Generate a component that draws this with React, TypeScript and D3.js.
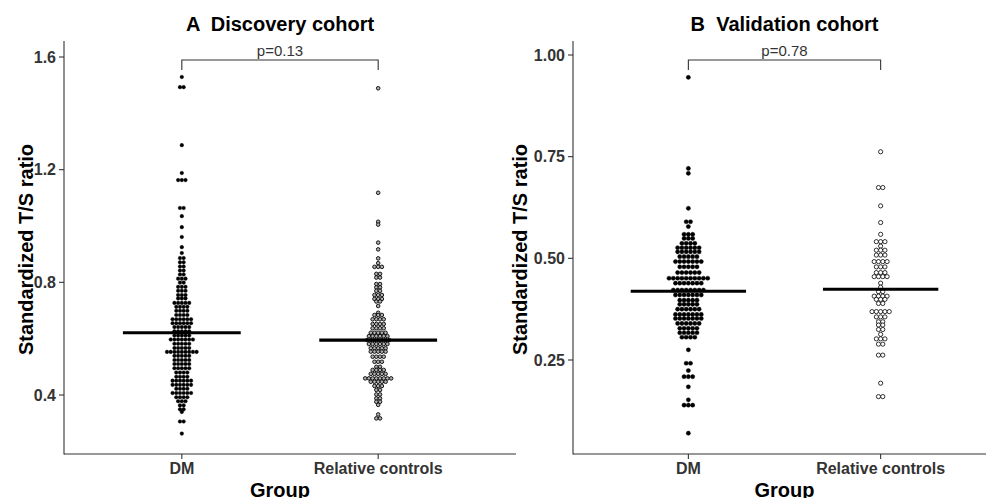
import React from 'react'
import * as d3 from 'd3'

// values as [value, number of dots in that row]
const groups = ['DM', 'Relative controls']

const discoveryDM: [number, number][] = [
  [1.529, 1], [1.493, 2], [1.287, 1], [1.188, 1], [1.163, 3], [1.064, 2], [1.035, 1],
  [0.996, 1], [0.961, 1], [0.925, 1], [0.904, 1], [0.886, 2], [0.871, 2], [0.856, 2],
  [0.842, 2], [0.828, 2], [0.813, 3], [0.799, 2], [0.784, 3], [0.770, 3], [0.755, 3],
  [0.743, 3], [0.727, 5], [0.713, 4], [0.699, 4], [0.684, 4], [0.669, 6], [0.655, 6],
  [0.641, 5], [0.626, 5], [0.611, 5], [0.597, 7], [0.582, 5], [0.567, 5], [0.553, 9],
  [0.539, 5], [0.524, 5], [0.510, 5], [0.495, 5], [0.480, 4], [0.465, 4], [0.451, 6],
  [0.436, 6], [0.422, 4], [0.407, 6], [0.392, 4], [0.378, 3], [0.363, 2], [0.349, 2],
  [0.340, 1], [0.306, 2], [0.263, 1],
]

const discoveryRC: [number, number][] = [
  [1.489, 1], [1.118, 1], [1.015, 1], [1.005, 1], [0.941, 1], [0.917, 1], [0.885, 1],
  [0.868, 1], [0.855, 3], [0.830, 2], [0.817, 2], [0.794, 2], [0.782, 2], [0.770, 2],
  [0.755, 3], [0.741, 3], [0.732, 2], [0.716, 1], [0.692, 1], [0.684, 3], [0.669, 4],
  [0.652, 4], [0.637, 4], [0.621, 5], [0.609, 6], [0.595, 7], [0.581, 6], [0.566, 5],
  [0.554, 5], [0.536, 4], [0.518, 3], [0.500, 2], [0.489, 4], [0.475, 5], [0.459, 8],
  [0.447, 5], [0.432, 3], [0.418, 2], [0.402, 2], [0.388, 2], [0.376, 2], [0.365, 1],
  [0.331, 1], [0.317, 2],
]

const validationDM: [number, number][] = [
  [0.945, 1], [0.721, 1], [0.709, 1], [0.623, 1], [0.590, 2], [0.578, 1], [0.559, 3],
  [0.549, 3], [0.537, 4], [0.526, 6], [0.516, 6], [0.504, 5], [0.492, 7], [0.479, 5],
  [0.465, 6], [0.451, 10], [0.439, 7], [0.422, 8], [0.410, 7], [0.397, 5], [0.387, 5],
  [0.375, 6], [0.362, 7], [0.352, 7], [0.340, 6], [0.328, 5], [0.317, 5], [0.306, 4],
  [0.275, 1], [0.242, 2], [0.224, 1], [0.209, 3], [0.184, 1], [0.152, 1], [0.139, 3],
  [0.070, 1],
]

const validationRC: [number, number][] = [
  [0.762, 1], [0.674, 2], [0.629, 1], [0.588, 1], [0.559, 1], [0.541, 3], [0.530, 1],
  [0.520, 3], [0.508, 3], [0.492, 4], [0.479, 3], [0.465, 3], [0.455, 4], [0.439, 1],
  [0.429, 1], [0.418, 2], [0.407, 4], [0.399, 3], [0.389, 2], [0.369, 5], [0.356, 3],
  [0.344, 2], [0.336, 2], [0.325, 2], [0.313, 1], [0.302, 3], [0.289, 2], [0.262, 2],
  [0.193, 1], [0.160, 2],
]

const discoveryMeans = [0.621, 0.595]
const validationMeans = [0.419, 0.424]
const discoveryTicks = [0.4, 0.8, 1.2, 1.6]
const validationTicks = [0.25, 0.5, 0.75, 1.0]

const FONT = '"Liberation Sans", Arial, sans-serif'
const INK = '#333333'

type PanelProps = {
  title: string
  pLabel: string
  x0: number
  x1: number
  yTitleX: number
  yDomain: [number, number]
  yRange: [number, number]
  ticks: number[]
  fmt: string
  rows: [number, number][][]
  means: number[]
  r: number
  gap: number
  ring: number
  openFill: string
}

const Panel = (p: PanelProps) => {
  const top = 41
  const bottom = 454
  const xScale = d3.scalePoint().domain(groups).range([p.x0, p.x1]).padding(0.6)
  const yScale = d3.scaleLinear().domain(p.yDomain).range(p.yRange)
  const step = xScale.step()
  const fmt = d3.format(p.fmt)
  const xa = xScale(groups[0]) as number
  const xb = xScale(groups[1]) as number
  const mid = (xa + xb) / 2

  return (
    <g fontFamily={FONT}>
      <text x={mid} y={31} textAnchor="middle" fontSize={20} fontWeight="bold" fill="#000"
        style={{ whiteSpace: 'pre' }}>{p.title}</text>

      {/* comparison bracket */}
      <path d={`M${xa},70V60H${xb}V70`} fill="none" stroke={INK} strokeWidth={1.1} />
      <text x={mid} y={56} textAnchor="middle" fontSize={15} fill={INK}>{p.pLabel}</text>

      {/* axes */}
      <line x1={p.x0} x2={p.x0} y1={top} y2={bottom + 0.5} stroke={INK} strokeWidth={1.1} />
      <line x1={p.x0} x2={p.x1 + 20} y1={bottom} y2={bottom} stroke={INK} strokeWidth={1.1} />
      {p.ticks.map(t => (
        <g key={t} transform={`translate(${p.x0},${yScale(t)})`}>
          <line x1={-5} x2={0} stroke={INK} strokeWidth={1.1} />
          <text x={-8} dy="0.36em" textAnchor="end" fontSize={16} fontWeight="bold" fill={INK}>{fmt(t)}</text>
        </g>
      ))}
      {groups.map(g => (
        <g key={g} transform={`translate(${xScale(g)},${bottom})`}>
          <line y1={0} y2={5} stroke={INK} strokeWidth={1.1} />
          <text y={20} textAnchor="middle" fontSize={16} fontWeight="bold" fill={INK}>{g}</text>
        </g>
      ))}
      <text x={mid} y={496.5} textAnchor="middle" fontSize={20} fontWeight="bold" fill="#000">Group</text>
      <text transform={`translate(${p.yTitleX},${(top + bottom) / 2 + 2}) rotate(-90)`} textAnchor="middle"
        fontSize={20} fontWeight="bold" fill="#000">Standardized T/S ratio</text>

      {/* centred dot stacks */}
      {groups.map((g, gi) => {
        const cx = xScale(g) as number
        return (
          <g key={g}>
            {p.rows[gi].flatMap(([v, n], ri) =>
              d3.range(n).map(i => (
                <circle key={`${ri}-${i}`} cx={cx + (i - (n - 1) / 2) * p.gap} cy={yScale(v)} r={p.r}
                  fill={gi === 0 ? '#000' : p.openFill} stroke="#000" strokeWidth={gi === 0 ? 0.4 : p.ring} />
              ))
            )}
          </g>
        )
      })}

      {/* mean bars */}
      {groups.map((g, gi) => {
        const cx = xScale(g) as number
        return (
          <line key={g} x1={cx - step * 0.3} x2={cx + step * 0.3} y1={yScale(p.means[gi])} y2={yScale(p.means[gi])}
            stroke="#000" strokeWidth={3.2} />
        )
      })}
    </g>
  )
}

export default function App() {
  return (
    <svg width={986} height={498} style={{ position: 'absolute', left: 0, top: 0, background: '#fff' }}>
      <rect width={986} height={498} fill="#fff" />
      <Panel title="A  Discovery cohort" pLabel="p=0.13" x0={64} x1={496} yTitleX={33}
        yDomain={[0.4, 1.6]} yRange={[395, 57]} ticks={discoveryTicks} fmt=".1f"
        rows={[discoveryDM, discoveryRC]} means={discoveryMeans} r={1.8} gap={3.7} ring={0.9} openFill="#b0b0b0" />
      <Panel title="B  Validation cohort" pLabel="p=0.78" x0={573} x1={996} yTitleX={527}
        yDomain={[0.25, 1.0]} yRange={[360, 55]} ticks={validationTicks} fmt=".2f"
        rows={[validationDM, validationRC]} means={validationMeans} r={2.1} gap={4.3} ring={0.8} openFill="#fff" />
    </svg>
  )
}
